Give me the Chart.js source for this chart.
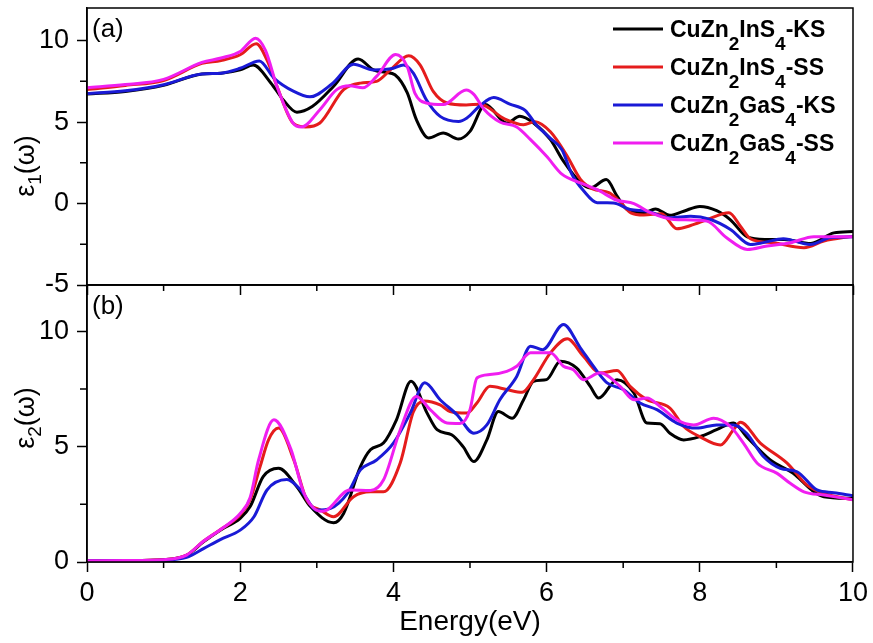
<!DOCTYPE html>
<html>
<head>
<meta charset="utf-8">
<script src="https://cdn.jsdelivr.net/npm/chart.js@4.4.1/dist/chart.umd.min.js"></script>
<style>
body{margin:0;background:#fff}
#wrap{position:relative;width:873px;height:643px}
#wrap canvas{position:absolute;left:0;top:0}
</style>
</head>
<body>
<div id="wrap">
<canvas id="chartB" width="873" height="643"></canvas>
<canvas id="chartA" width="873" height="300"></canvas>
</div>
<script>
// series names (digits get drawn as subscripts)
const seriesNames = ['CuZn2InS4-KS', 'CuZn2InS4-SS', 'CuZn2GaS4-KS', 'CuZn2GaS4-SS'];
const seriesColors = ['#000000', '#e51c1c', '#1a1ad6', '#f01ef0'];

const xTicks = [0, 2, 4, 6, 8, 10];
const yTicksA = [-5, 0, 5, 10];
const yTicksB = [0, 5, 10];

// (a) eps1, energy in eV
const inKS_e1_x = [0, 0.5, 1.0, 1.5, 1.75, 2.0, 2.17, 2.4, 2.56, 2.74, 2.94, 3.22, 3.54, 3.74, 3.9, 4.02, 4.18, 4.3, 4.46, 4.65, 4.85, 5.0, 5.2, 5.48, 5.65, 5.83, 6.05, 6.22, 6.44, 6.57, 6.78, 6.92, 7.05, 7.27, 7.42, 7.61, 7.79, 8.0, 8.22, 8.4, 8.62, 8.85, 9.1, 9.45, 9.75, 10];
const inKS_e1_y = [6.72, 6.88, 7.25, 7.95, 8.0, 8.2, 8.5, 7.4, 6.37, 5.6, 5.95, 7.2, 8.87, 8.2, 8.05, 7.9, 6.8, 5.15, 4.02, 4.33, 3.96, 4.43, 6.07, 4.94, 5.35, 4.94, 3.92, 2.6, 1.3, 0.96, 1.47, 0.45, -0.37, -0.57, -0.33, -0.72, -0.47, -0.18, -0.44, -1.0, -2.05, -2.2, -2.2, -2.45, -1.8, -1.72];

const inSS_e1_x = [0, 0.5, 1.0, 1.5, 1.75, 2.0, 2.21, 2.35, 2.48, 2.69, 2.85, 3.04, 3.35, 3.57, 3.78, 3.96, 4.2, 4.35, 4.52, 4.7, 4.95, 5.13, 5.45, 5.7, 5.85, 6.05, 6.27, 6.44, 6.6, 6.82, 6.95, 7.1, 7.27, 7.5, 7.7, 7.88, 8.1, 8.38, 8.53, 8.66, 8.96, 9.36, 9.62, 10];
const inSS_e1_y = [7.0, 7.25, 7.55, 8.6, 8.78, 9.13, 9.8, 8.8, 7.2, 4.94, 4.7, 4.94, 6.99, 7.39, 7.5, 8.2, 9.07, 8.5, 6.88, 6.17, 6.05, 6.1, 5.2, 4.84, 5.02, 4.4, 2.9, 1.5, 0.9, 0.65, 0.14, -0.57, -0.7, -0.62, -1.55, -1.35, -0.98, -0.57, -1.39, -2.16, -2.41, -2.71, -2.3, -2.0];

const gaKS_e1_x = [0, 0.5, 1.0, 1.5, 1.75, 2.0, 2.25, 2.44, 2.7, 2.91, 3.2, 3.48, 3.74, 4.0, 4.13, 4.26, 4.43, 4.61, 4.85, 4.96, 5.13, 5.31, 5.52, 5.72, 5.87, 6.05, 6.2, 6.33, 6.48, 6.66, 6.87, 7.09, 7.31, 7.61, 7.88, 8.14, 8.4, 8.66, 8.83, 9.09, 9.44, 9.7, 10];
const gaKS_e1_y = [6.75, 6.92, 7.29, 7.95, 8.0, 8.3, 8.75, 7.7, 6.88, 6.55, 7.35, 8.55, 8.2, 8.3, 8.5, 8.0, 6.37, 5.35, 5.04, 5.25, 6.0, 6.5, 6.1, 5.72, 4.8, 4.0, 3.3, 1.8, 0.8, 0.05, 0.04, -0.37, -0.47, -0.88, -0.78, -0.98, -1.59, -2.51, -2.4, -2.16, -2.51, -2.1, -2.04];

const gaSS_e1_x = [0, 0.5, 1.0, 1.5, 1.75, 2.0, 2.2, 2.33, 2.48, 2.69, 2.8, 3.04, 3.26, 3.43, 3.6, 3.78, 4.03, 4.18, 4.28, 4.43, 4.65, 4.95, 5.05, 5.18, 5.39, 5.61, 5.79, 6.0, 6.2, 6.44, 6.66, 6.92, 7.14, 7.35, 7.66, 8.09, 8.35, 8.62, 8.88, 9.18, 9.49, 10];
const gaSS_e1_y = [7.1, 7.3, 7.62, 8.66, 8.93, 9.33, 10.15, 9.4, 7.19, 4.94, 4.7, 5.76, 6.99, 7.23, 7.1, 7.8, 9.15, 8.41, 6.78, 6.17, 6.07, 6.96, 6.7, 5.8, 5.0, 4.7, 3.92, 2.9, 1.8, 1.27, 0.85, 0.2, 0.0, -0.55, -0.98, -1.08, -2.1, -2.82, -2.6, -2.41, -2.04, -2.04];

// (b) eps2
const inKS_e2_x = [0, 0.5, 1.0, 1.3, 1.52, 1.74, 2.0, 2.13, 2.3, 2.5, 2.74, 2.92, 3.22, 3.35, 3.57, 3.7, 3.87, 4.04, 4.23, 4.44, 4.57, 4.76, 4.91, 5.05, 5.22, 5.37, 5.55, 5.7, 5.83, 6.0, 6.18, 6.39, 6.57, 6.68, 6.92, 7.14, 7.31, 7.48, 7.61, 7.79, 8.0, 8.22, 8.44, 8.61, 8.92, 9.22, 9.49, 9.62, 10];
const inKS_e2_y = [0.05, 0.06, 0.1, 0.29, 0.87, 1.38, 1.89, 2.4, 3.7, 4.06, 3.26, 2.39, 1.7, 2.1, 4.13, 4.86, 5.15, 6.16, 7.83, 6.45, 5.73, 5.51, 5.0, 4.35, 5.29, 6.52, 6.23, 7.03, 7.83, 7.9, 8.7, 8.41, 7.61, 7.1, 7.9, 7.32, 6.02, 5.99, 5.58, 5.29, 5.43, 5.73, 6.02, 5.43, 4.42, 3.84, 3.04, 2.83, 2.75];

const inSS_e2_x = [0, 0.5, 1.0, 1.3, 1.52, 1.74, 2.0, 2.13, 2.26, 2.37, 2.5, 2.7, 2.87, 3.05, 3.22, 3.48, 3.7, 3.87, 4.09, 4.26, 4.4, 4.61, 4.74, 4.96, 5.09, 5.26, 5.48, 5.68, 5.83, 6.05, 6.27, 6.48, 6.7, 6.92, 7.09, 7.31, 7.61, 7.79, 8.0, 8.27, 8.44, 8.53, 8.79, 9.14, 9.4, 9.62, 10];
const inSS_e2_y = [0.05, 0.06, 0.1, 0.3, 0.9, 1.4, 2.05, 2.7, 4.13, 5.29, 5.8, 4.42, 2.68, 2.25, 1.96, 2.83, 3.04, 3.04, 4.3, 6.5, 6.98, 6.81, 6.52, 6.45, 6.89, 7.61, 7.47, 7.35, 7.9, 9.06, 9.67, 8.91, 8.19, 8.3, 7.61, 7.03, 6.67, 5.87, 5.43, 5.07, 5.73, 6.05, 5.15, 4.28, 3.33, 2.97, 2.7];

const gaKS_e2_x = [0, 0.5, 1.0, 1.3, 1.52, 1.74, 2.0, 2.18, 2.35, 2.61, 2.79, 3.0, 3.18, 3.4, 3.57, 3.78, 4.0, 4.22, 4.41, 4.61, 4.83, 5.05, 5.22, 5.39, 5.61, 5.79, 5.95, 6.22, 6.44, 6.66, 6.79, 7.0, 7.22, 7.44, 7.7, 7.96, 8.22, 8.44, 8.61, 8.83, 9.05, 9.27, 9.53, 9.75, 10];
const gaKS_e2_y = [0.05, 0.06, 0.08, 0.2, 0.58, 0.97, 1.38, 1.96, 3.12, 3.57, 3.12, 2.25, 2.32, 2.97, 3.99, 4.42, 5.15, 6.45, 7.76, 7.03, 6.38, 5.58, 5.94, 7.03, 8.04, 9.35, 9.2, 10.29, 9.28, 8.26, 7.76, 7.47, 6.89, 6.6, 6.02, 5.8, 5.94, 5.94, 5.58, 4.57, 4.06, 3.91, 3.12, 3.0, 2.87];

const gaSS_e2_x = [0, 0.5, 1.0, 1.3, 1.52, 1.74, 2.0, 2.13, 2.24, 2.44, 2.66, 2.83, 3.05, 3.13, 3.43, 3.7, 3.87, 4.09, 4.3, 4.48, 4.7, 4.87, 5.0, 5.09, 5.26, 5.48, 5.61, 5.79, 6.05, 6.22, 6.35, 6.48, 6.7, 6.96, 7.14, 7.31, 7.48, 7.7, 7.92, 8.18, 8.4, 8.57, 8.75, 9.01, 9.18, 9.36, 9.62, 10];
const gaSS_e2_y = [0.05, 0.06, 0.1, 0.3, 0.9, 1.4, 2.1, 2.8, 4.42, 6.16, 4.9, 3.0, 2.2, 2.25, 3.12, 3.1, 3.55, 5.73, 7.17, 6.6, 6.02, 6.0, 6.6, 7.97, 8.12, 8.26, 8.48, 9.06, 9.06, 8.48, 8.33, 7.9, 8.2, 7.61, 7.03, 7.1, 6.74, 6.16, 5.94, 6.23, 5.87, 5.15, 4.28, 3.84, 3.41, 3.04, 2.9, 2.7];

const FONT = "'Liberation Sans', Arial, sans-serif";

function toPts(xs, ys){
    return xs.map((x, i) => ({x: x, y: ys[i]}));
}

function makeSets(list){
    return list.map((s, i) => ({
        label: seriesNames[i],
        data: toPts(s[0], s[1]),
        borderColor: seriesColors[i],
        borderWidth: 3,
        pointRadius: 0,
        cubicInterpolationMode: 'monotone',
        order: 4 - i
    }));
}

// text with digits lowered as subscripts
function drawSub(ctx, text, x, y, mainFont, subFont, dy){
    let cx = x;
    for (const ch of text) {
        const isSub = ch >= '0' && ch <= '9';
        ctx.font = isSub ? subFont : mainFont;
        ctx.fillText(ch, cx, isSub ? y + dy : y);
        cx += ctx.measureText(ch).width;
    }
    return cx - x;
}
function subWidth(ctx, text, mainFont, subFont){
    let w = 0;
    for (const ch of text) {
        ctx.font = (ch >= '0' && ch <= '9') ? subFont : mainFont;
        w += ctx.measureText(ch).width;
    }
    return w;
}

// frame, minor ticks, panel label, y title
function panelPlugin(tag, yTitle, titleY, minorY){
    return {
        id: 'panel' + tag,
        afterDraw(chart){
            const ctx = chart.ctx, a = chart.chartArea;
            const xs = chart.scales.x, ys = chart.scales.y;
            ctx.save();
            ctx.strokeStyle = '#000';
            ctx.lineWidth = 1.5;
            ctx.strokeRect(a.left, a.top, a.right - a.left, a.bottom - a.top);
            ctx.beginPath();
            [1, 3, 5, 7, 9].forEach(v => {
                const px = xs.getPixelForValue(v);
                ctx.moveTo(px, a.bottom);
                ctx.lineTo(px, a.bottom + 6);
            });
            minorY.forEach(v => {
                const py = ys.getPixelForValue(v);
                ctx.moveTo(a.left, py);
                ctx.lineTo(a.left - 7, py);
            });
            ctx.stroke();

            ctx.fillStyle = '#000';
            ctx.textBaseline = 'alphabetic';
            ctx.font = '26px ' + FONT;
            ctx.fillText('(' + tag + ')', a.left + 5, a.top + 29);

            // rotated y title
            const mf = '27px ' + FONT, sf = '19px ' + FONT;
            ctx.translate(34, titleY);
            ctx.rotate(-Math.PI / 2);
            const w = subWidth(ctx, yTitle, mf, sf);
            drawSub(ctx, yTitle, -w / 2, 0, mf, sf, 7);
            ctx.restore();
        }
    };
}

const legendPlugin = {
    id: 'inLegend',
    afterDraw(chart){
        const ctx = chart.ctx;
        ctx.save();
        ctx.textBaseline = 'alphabetic';
        seriesNames.forEach((name, i) => {
            const y = 29 + i * 38;
            ctx.strokeStyle = seriesColors[i];
            ctx.lineWidth = 3;
            ctx.beginPath();
            ctx.moveTo(613, y);
            ctx.lineTo(663, y);
            ctx.stroke();
            ctx.fillStyle = '#000';
            drawSub(ctx, name, 670, y + 8, 'bold 23px ' + FONT, 'bold 19px ' + FONT, 13);
        });
        ctx.restore();
    }
};

function axisStyle(){
    return {
        grid: {drawOnChartArea: false, tickLength: 10, tickWidth: 1.5, tickColor: '#000'},
        border: {color: '#000', width: 1.5}
    };
}

function fixY(s){
    s.width = 87;
    s.paddingTop = 0;
    s.paddingBottom = 0;
}

const chartA = new Chart(document.getElementById('chartA'), {
    type: 'line',
    data: {datasets: makeSets([[inKS_e1_x, inKS_e1_y], [inSS_e1_x, inSS_e1_y], [gaKS_e1_x, gaKS_e1_y], [gaSS_e1_x, gaSS_e1_y]])},
    options: {
        responsive: false,
        animation: false,
        devicePixelRatio: 1,
        layout: {padding: {left: 0, right: 20, top: 8, bottom: 5}},
        plugins: {legend: {display: false}, tooltip: {enabled: false}},
        scales: {
            x: Object.assign(axisStyle(), {
                type: 'linear', min: 0, max: 10,
                afterBuildTicks: s => { s.ticks = xTicks.map(v => ({value: v})) },
                afterFit: s => { s.height = 10 },
                ticks: {display: false}
            }),
            y: Object.assign(axisStyle(), {
                min: -5, max: 12,
                afterBuildTicks: s => { s.ticks = yTicksA.map(v => ({value: v})) },
                afterFit: fixY,
                ticks: {color: '#000', padding: 8, font: {family: FONT, size: 27, lineHeight: 1}}
            })
        }
    },
    plugins: [panelPlugin('a', 'ε1(ω)', 166, [-2.5, 2.5, 7.5]), legendPlugin]
});

const chartB = new Chart(document.getElementById('chartB'), {
    type: 'line',
    data: {datasets: makeSets([[inKS_e2_x, inKS_e2_y], [inSS_e2_x, inSS_e2_y], [gaKS_e2_x, gaKS_e2_y], [gaSS_e2_x, gaSS_e2_y]])},
    options: {
        responsive: false,
        animation: false,
        devicePixelRatio: 1,
        layout: {padding: {left: 0, right: 20, top: 285, bottom: 0}},
        plugins: {legend: {display: false}, tooltip: {enabled: false}},
        scales: {
            x: Object.assign(axisStyle(), {
                type: 'linear', min: 0, max: 10,
                afterBuildTicks: s => { s.ticks = xTicks.map(v => ({value: v})) },
                afterFit: s => { s.height = 81 },
                ticks: {color: '#000', padding: 5, font: {family: FONT, size: 27}},
                title: {display: true, text: 'Energy(eV)', color: '#000', font: {family: FONT, size: 28}, padding: {top: 0, bottom: 4}}
            }),
            y: Object.assign(axisStyle(), {
                min: 0, max: 12,
                afterBuildTicks: s => { s.ticks = yTicksB.map(v => ({value: v})) },
                afterFit: fixY,
                ticks: {color: '#000', padding: 8, font: {family: FONT, size: 27, lineHeight: 1}}
            })
        }
    },
    plugins: [panelPlugin('b', 'ε2(ω)', 418, [2.5, 7.5])]
});
</script>
</body>
</html>
